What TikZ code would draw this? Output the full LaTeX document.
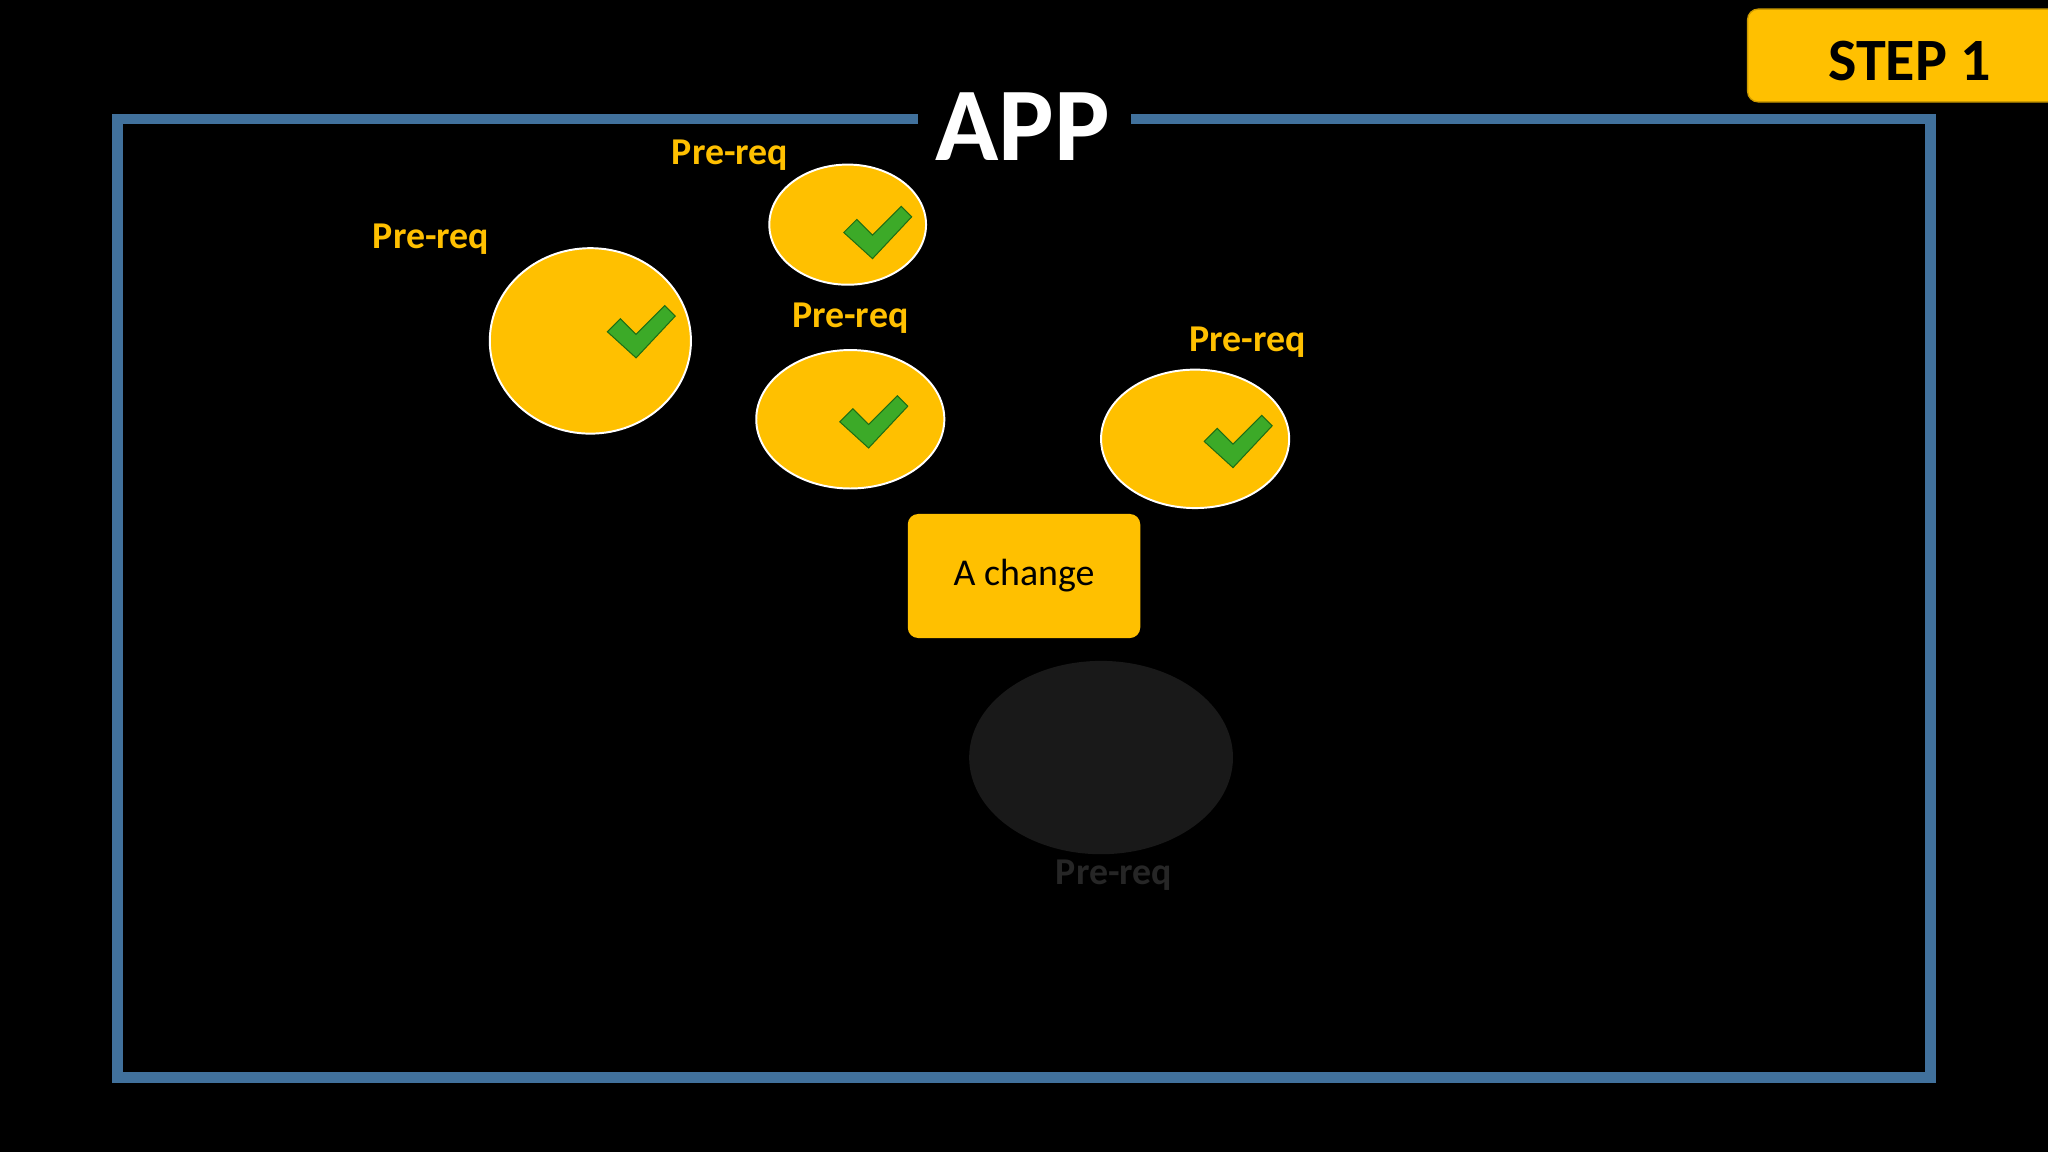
\documentclass[tikz,border=0pt]{standalone}
\usetikzlibrary{shapes.geometric}
\usepackage{fontspec}
\setmainfont{Carlito}
\definecolor{gold}{RGB}{255,192,0}
\definecolor{frameblue}{RGB}{65,113,156}
\definecolor{chk}{RGB}{60,170,40}
\definecolor{chkd}{RGB}{30,110,20}
\begin{document}
\begin{tikzpicture}[x=1pt,y=-1pt,
  pre/.style={ellipse,fill=gold,draw=white,line width=1.5pt,inner sep=0pt},
  lbl/.style={text=gold,font=\bfseries\fontsize{29}{30}\selectfont},
  chkmark/.pic={\fill[chk,draw=chkd,line width=0.8pt] (-24,-2) -- (-14,-12) -- (-2,0) -- (20,-22) -- (28,-14) -- (-2,18) -- cycle;}]
\useasboundingbox (0,0) rectangle (1568,882);
\fill[black] (0,0) rectangle (1568,882);
\draw[frameblue,line width=8pt] (703,91) -- (90,91) -- (90,825) -- (1478,825) -- (1478,91) -- (866,91);
\node[text=white,font=\bfseries\fontsize{80}{80}\selectfont] (app) at (783,97) {APP};
\draw[gold!80!black,fill=gold,rounded corners=8pt,line width=1pt] (1338,7) rectangle (1580,78);
\node[font=\bfseries\fontsize{46}{46}\selectfont] (step) at (1462,47) {STEP 1};
\node[pre,minimum width=154,minimum height=142] (c1) at (452,261) {};
\node[pre,minimum width=120,minimum height=92] (c2) at (649,172) {};
\node[pre,minimum width=144,minimum height=106] (c3) at (651,321) {};
\node[pre,minimum width=144,minimum height=106] (c4) at (915,336) {};
\pic at (489,256) {chkmark};
\pic at (670,180) {chkmark};
\pic at (667,325) {chkmark};
\pic at (946,340) {chkmark};
\node[lbl] (l1) at (330,183) {Pre-req};
\node[lbl] (l2) at (559,119) {Pre-req};
\node[lbl] (l3) at (651,244) {Pre-req};
\node[lbl] (l4) at (955,262) {Pre-req};
\node[fill=gold,rounded corners=8pt,minimum width=178,minimum height=95,font=\fontsize{29}{30}\selectfont] (chg) at (784,441) {A change};
\node[ellipse,fill=black!90,minimum width=202,minimum height=148,inner sep=0pt] (c5) at (843,580) {};
\node[lbl,text=black!85] (l5) at (853,670) {Pre-req};
\end{tikzpicture}
\end{document}
